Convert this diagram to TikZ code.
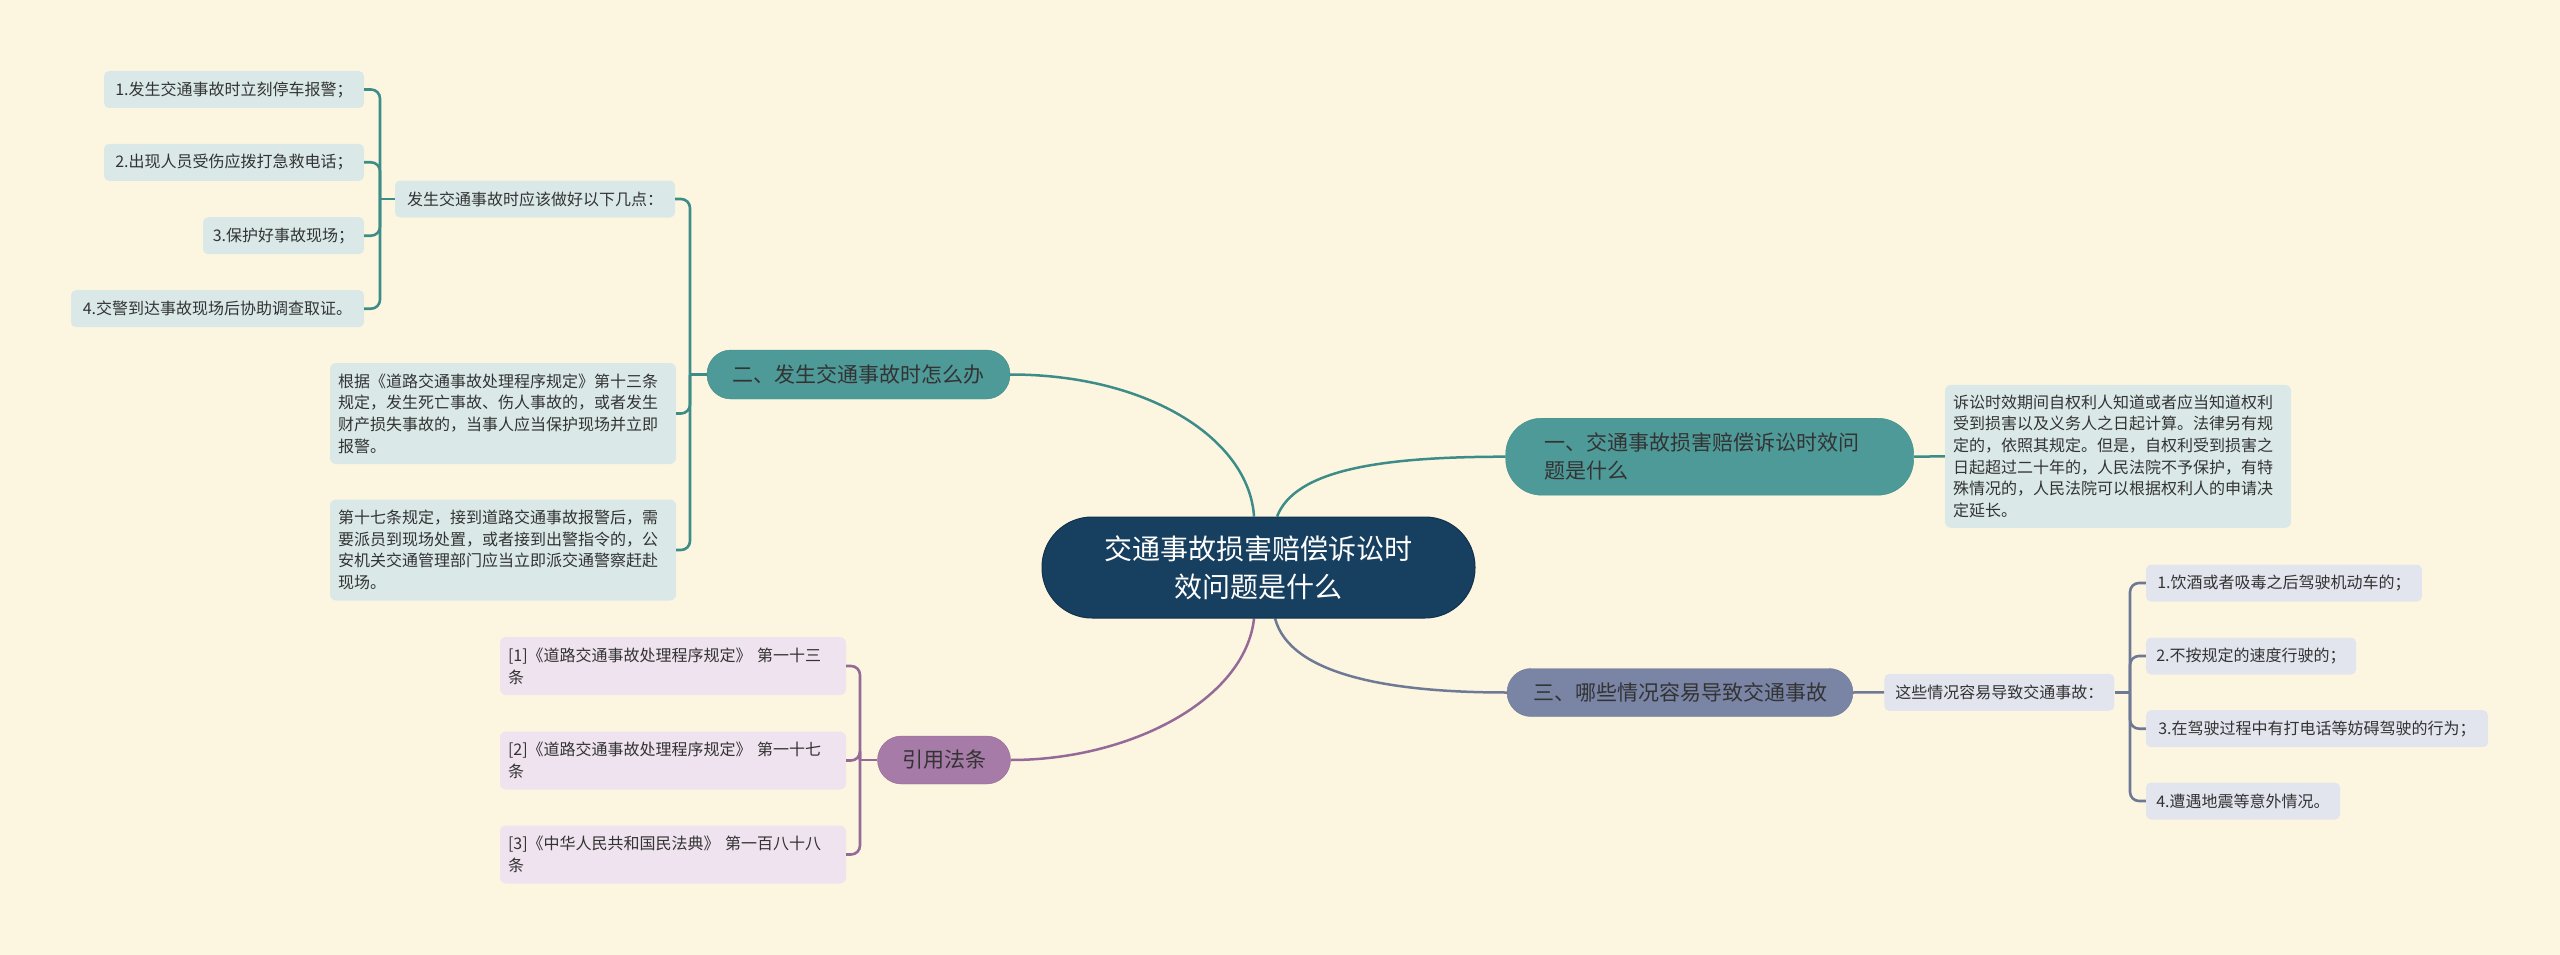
\documentclass[tikz,border=0pt]{standalone}
\usepackage{fontspec}
\usetikzlibrary{backgrounds}
\setmainfont{Noto Sans CJK SC}
\definecolor{bg}{HTML}{FCF6E1}
\definecolor{txt}{HTML}{333333}
\definecolor{cenfill}{HTML}{173F5F}
\definecolor{tealnode}{HTML}{4E9A98}
\definecolor{tealline}{HTML}{3D8C88}
\definecolor{tealleaf}{HTML}{DAE9E8}
\definecolor{slatenode}{HTML}{7A85A6}
\definecolor{slateline}{HTML}{6E7995}
\definecolor{slateleaf}{HTML}{E3E5EE}
\definecolor{purpnode}{HTML}{A67BA8}
\definecolor{purpline}{HTML}{956A98}
\definecolor{purpleaf}{HTML}{EEE3EE}
\begin{document}
\begin{tikzpicture}[x=1pt,y=-1pt,
  every node/.style={text=txt},
  central/.style={fill=cenfill, draw=cenfill!80!black, line width=1pt, rounded corners=50pt, inner sep=0pt, align=center, text=white, font=\fontsize{28}{38}\selectfont},
  mainbr/.style={rounded corners=24pt, inner sep=0pt, font=\fontsize{21}{27.7}\selectfont},
  leaf/.style={rounded corners=5pt, inner xsep=2pt, inner ysep=0pt, minimum height=37pt, font=\fontsize{16}{21.7}\selectfont},
  para/.style={rounded corners=6pt, inner xsep=8pt, inner ysep=0pt, text width=330pt, align=left, font=\fontsize{16}{21.7}\selectfont},
  conn/.style={line width=2.5pt},
  brk/.style={line width=2.6pt, rounded corners=9pt}
]
\useasboundingbox (0,0) rectangle (2560,955);

% central node
\node[central, minimum width=433pt, minimum height=101pt] (c) at (1258.5,567.5) {交通事故损害赔偿诉讼时\\效问题是什么};

% main branches
\node[mainbr, fill=tealnode, draw=tealline, minimum width=303pt, minimum height=49pt] (b2) at (858.5,374.5) {二、发生交通事故时怎么办};
\node[mainbr, fill=tealnode, draw=tealline, rounded corners=36pt, minimum height=77pt, inner xsep=39pt, text width=330pt, align=left] (b1) at (1709.7,456.7) {一、交通事故损害赔偿诉讼时效问\\题是什么};
\node[mainbr, fill=slatenode, draw=slateline, minimum width=346pt, minimum height=48pt] (b3) at (1680,692.5) {三、哪些情况容易导致交通事故};
\node[mainbr, fill=purpnode, draw=purpline, minimum width=133pt, minimum height=48pt] (cite) at (944,760) {引用法条};

% teal leaves (二)
\node[leaf, fill=tealleaf, minimum width=280pt] (fs) at (535,199) {发生交通事故时应该做好以下几点：};
\node[leaf, fill=tealleaf, minimum width=260pt] (a1) at (234,89.5) {1.发生交通事故时立刻停车报警；};
\node[leaf, fill=tealleaf, minimum width=260pt] (a2) at (234,162.3) {2.出现人员受伤应拨打急救电话；};
\node[leaf, fill=tealleaf, minimum width=161pt] (a3) at (283.5,235.7) {3.保护好事故现场；};
\node[leaf, fill=tealleaf, minimum width=293pt] (a4) at (217.5,308.7) {4.交警到达事故现场后协助调查取证。};
\node[para, fill=tealleaf, minimum height=101pt] (gen) at (503,413.5) {根据《道路交通事故处理程序规定》第十三条\\规定，发生死亡事故、伤人事故的，或者发生\\财产损失事故的，当事人应当保护现场并立即\\报警。};
\node[para, fill=tealleaf, minimum height=101pt] (d17) at (503,550) {第十七条规定，接到道路交通事故报警后，需\\要派员到现场处置，或者接到出警指令的，公\\安机关交通管理部门应当立即派交通警察赶赴\\现场。};

% teal leaf (一)
\node[para, fill=tealleaf, minimum height=143pt] (su) at (2118,456.3) {诉讼时效期间自权利人知道或者应当知道权利\\受到损害以及义务人之日起计算。法律另有规\\定的，依照其规定。但是，自权利受到损害之\\日起超过二十年的，人民法院不予保护，有特\\殊情况的，人民法院可以根据权利人的申请决\\定延长。};

% slate leaves (三)
\node[leaf, fill=slateleaf, minimum width=230pt] (zhe) at (1999.3,692.3) {这些情况容易导致交通事故：};
\node[leaf, fill=slateleaf, minimum width=276pt] (t1) at (2284,583) {1.饮酒或者吸毒之后驾驶机动车的；};
\node[leaf, fill=slateleaf, minimum width=210pt] (t2) at (2251,656) {2.不按规定的速度行驶的；};
\node[leaf, fill=slateleaf, minimum width=342pt] (t3) at (2317,728.7) {3.在驾驶过程中有打电话等妨碍驾驶的行为；};
\node[leaf, fill=slateleaf, minimum width=194pt] (t4) at (2243,801) {4.遭遇地震等意外情况。};

% purple leaves
\node[para, fill=purpleaf, minimum height=58pt] (c1) at (673,666) {[1]《道路交通事故处理程序规定》 第一十三\\条};
\node[para, fill=purpleaf, minimum height=58pt] (c2) at (673,760.5) {[2]《道路交通事故处理程序规定》 第一十七\\条};
\node[para, fill=purpleaf, minimum height=58pt] (c3) at (673,854.5) {[3]《中华人民共和国民法典》 第一百八十八\\条};

% junction coordinates
\coordinate (ja) at (380,199);
\coordinate (j2) at (690,374.5);
\coordinate (j3) at (2130,692.3);
\coordinate (jc) at (860,760);

\begin{scope}[on background layer]
\fill[bg] (0,0) rectangle (2560,955);
% connectors from the central node
\draw[conn, tealline] (c.95) .. controls (1249,440) and (1150,374.5) .. (b2.east);
\draw[conn, tealline] (c.70) .. controls (1295,470) and (1380,456.7) .. (b1.west);
\draw[conn, slateline] (c.-72) .. controls (1290,675) and (1390,692.5) .. (b3.west);
\draw[conn, purpline] (c.-95) .. controls (1245,700) and (1130,760) .. (cite.east);
\end{scope}

% brackets: 二
\draw[conn, tealline] (b2.west) -- (j2);
\draw[brk, tealline] (j2) |- (fs.east);
\draw[brk, tealline] (j2) |- (gen.east);
\draw[brk, tealline] (j2) |- (d17.east);
% brackets: 发生...
\draw[conn, tealline] (fs.west) -- (ja);
\draw[brk, tealline] (ja) |- (a1.east);
\draw[brk, tealline] (ja) |- (a2.east);
\draw[brk, tealline] (ja) |- (a3.east);
\draw[brk, tealline] (ja) |- (a4.east);
% 一
\draw[conn, tealline] (b1.east) -- (su.west);
% 三
\draw[conn, slateline] (b3.east) -- (zhe.west);
\draw[conn, slateline] (zhe.east) -- (j3);
\draw[brk, slateline] (j3) |- (t1.west);
\draw[brk, slateline] (j3) |- (t2.west);
\draw[brk, slateline] (j3) |- (t3.west);
\draw[brk, slateline] (j3) |- (t4.west);
% 引用
\draw[conn, purpline] (cite.west) -- (jc);
\draw[brk, purpline] (jc) |- (c1.east);
\draw[brk, purpline] (jc) |- (c2.east);
\draw[brk, purpline] (jc) |- (c3.east);
\end{tikzpicture}
\end{document}
